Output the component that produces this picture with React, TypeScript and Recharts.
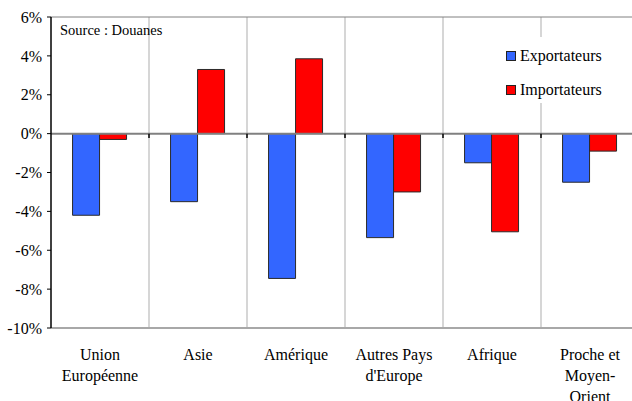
import React from "react";
import { BarChart, Bar, XAxis, YAxis, ReferenceLine } from "recharts";

const categories = [
  "Union\nEuropéenne",
  "Asie",
  "Amérique",
  "Autres Pays\nd'Europe",
  "Afrique",
  "Proche et\nMoyen-\nOrient",
];
const exportateurs = [-4.2, -3.5, -7.45, -5.35, -1.5, -2.5];
const importateurs = [-0.3, 3.3, 3.85, -3.0, -5.05, -0.9];
const yTicks = [-10, -8, -6, -4, -2, 0, 2, 4, 6];
const seriesNames = ["Exportateurs", "Importateurs"];
const colors = ["#3366FF", "#FF0000"];

const data = categories.map((c, i) => ({
  cat: c,
  exp: exportateurs[i],
  imp: importateurs[i],
}));
const boundaryCats = categories.slice(1);

const FONT = "Liberation Serif, Tinos, DejaVu Serif, serif";

const CatTick = (props: any) => {
  const { x, y, payload } = props;
  const lines = String(payload.value).split("\n");
  return (
    <g>
      {lines.map((l: string, i: number) => (
        <text
          key={i}
          x={x}
          y={y + 32 + i * 21}
          textAnchor="middle"
          style={{ fontFamily: FONT, fontSize: 16 }}
          fill="#000"
        >
          {l}
        </text>
      ))}
    </g>
  );
};

export default function App() {
  return (
    <div
      style={{
        position: "absolute",
        left: 0,
        top: 0,
        width: 632,
        height: 401,
        overflow: "hidden",
        background: "#fff",
        fontFamily: FONT,
      }}
    >
      <BarChart
        width={640}
        height={401}
        data={data}
        margin={{ top: 17, right: 1, left: 0, bottom: 0 }}
        barCategoryGap="22%"
        barGap={0}
        style={{ fontFamily: FONT }}
      >
        <XAxis
          dataKey="cat"
          axisLine={false}
          tickLine={false}
          tickSize={0}
          tickMargin={0}
          height={73}
          interval={0}
          tick={<CatTick />}
        />
        <YAxis
          domain={[-10, 6]}
          ticks={yTicks}
          width={51}
          tickFormatter={(v: number) => `${v}%`}
          axisLine={{ stroke: "#000", strokeWidth: 1.5 }}
          tickLine={{ stroke: "#000" }}
          tickSize={4}
          tickMargin={5}
          tick={{ fontSize: 16, fill: "#000", style: { fontFamily: FONT } }}
          interval={0}
        />
        {boundaryCats.map((c) => (
          <ReferenceLine key={"g" + c} x={c} position="start" stroke="#c8c8c8" strokeWidth={1.5} />
        ))}
        <ReferenceLine y={6} stroke="#808080" strokeWidth={1} />
        <ReferenceLine y={-10} stroke="#a8a8a8" strokeWidth={2} />
        <Bar
          dataKey="exp"
          name={seriesNames[0]}
          fill={colors[0]}
          stroke="#2a2a2a"
          strokeWidth={1}
          isAnimationActive={false}
        />
        <Bar
          dataKey="imp"
          name={seriesNames[1]}
          fill={colors[1]}
          stroke="#2a2a2a"
          strokeWidth={1}
          isAnimationActive={false}
        />
        <ReferenceLine y={0} stroke="#808080" strokeWidth={2} />
        {boundaryCats.map((c) => (
          <ReferenceLine
            key={"t" + c}
            position="start"
            segment={[
              { x: c, y: 0 },
              { x: c, y: -0.22 },
            ]}
            stroke="#000"
            strokeWidth={1.5}
          />
        ))}
      </BarChart>
      <div
        style={{
          position: "absolute",
          left: 497,
          top: 37,
          width: 143,
          height: 66,
          background: "#fff",
        }}
      >
        {seriesNames.map((n, i) => (
          <div key={n}>
            <div
              style={{
                position: "absolute",
                left: 9,
                top: 14 + i * 34,
                width: 8,
                height: 8,
                background: colors[i],
                border: "1px solid #222",
              }}
            />
            <div
              style={{
                position: "absolute",
                left: 23,
                top: 9 + i * 34,
                fontSize: 16,
                lineHeight: "20px",
                color: "#000",
                whiteSpace: "nowrap",
              }}
            >
              {n}
            </div>
          </div>
        ))}
      </div>
      <div
        style={{
          position: "absolute",
          left: 60,
          top: 21,
          fontSize: 14.5,
          lineHeight: "18px",
          color: "#000",
          whiteSpace: "nowrap",
        }}
      >
        Source : Douanes
      </div>
    </div>
  );
}
